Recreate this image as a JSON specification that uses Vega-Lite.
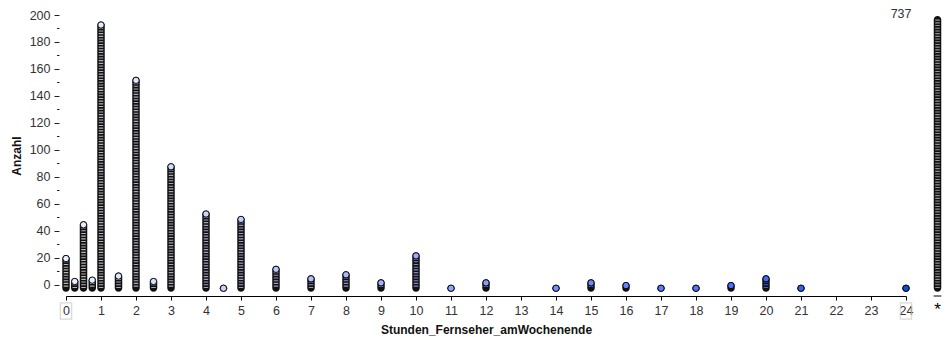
{
  "$schema": "https://vega.github.io/schema/vega-lite/v6.json",
  "autosize": "none",
  "width": 840,
  "height": 281,
  "padding": {"left": 66, "top": 15, "right": 45, "bottom": 45},
  "background": "white",
  "config": {
    "view": {"stroke": null},
    "font": "Liberation Sans",
    "axis": {"labelFont": "Liberation Sans", "titleFont": "Liberation Sans"}
  },
  "datasets": {
    "punkte": [
      {"x": 0, "n": 23}, {"x": 0.25, "n": 6}, {"x": 0.5, "n": 48}, {"x": 0.75, "n": 7},
      {"x": 1, "n": 196}, {"x": 1.5, "n": 10}, {"x": 2, "n": 155}, {"x": 2.5, "n": 6},
      {"x": 3, "n": 91}, {"x": 4, "n": 56}, {"x": 4.5, "n": 1}, {"x": 5, "n": 52},
      {"x": 6, "n": 15}, {"x": 7, "n": 8}, {"x": 8, "n": 11}, {"x": 9, "n": 5},
      {"x": 10, "n": 25}, {"x": 11, "n": 1}, {"x": 12, "n": 5}, {"x": 14, "n": 1},
      {"x": 15, "n": 5}, {"x": 16, "n": 3}, {"x": 17, "n": 1}, {"x": 18, "n": 1},
      {"x": 19, "n": 3}, {"x": 20, "n": 8}, {"x": 21, "n": 1}, {"x": 24, "n": 1}
    ],
    "fehlend": [{"label": "*", "n": 737}],
    "enden": [{"x": 0}, {"x": 24}]
  },
  "data": {"name": "punkte"},
  "layer": [
    {
      "mark": {"type": "bar", "color": "#111", "size": 7.5, "cornerRadius": 3.75, "yOffset": 1.1, "y2Offset": 8.1},
      "encoding": {
        "x": {
          "field": "x", "type": "quantitative",
          "scale": {"domain": [0, 24], "nice": false, "zero": false, "padding": 0},
          "axis": {
            "values": [0,1,2,3,4,5,6,7,8,9,10,11,12,13,14,15,16,17,18,19,20,21,22,23,24],
            "tickCount": 100, "format": "d",
            "title": "Stunden_Fernseher_amWochenende",
            "titleFontWeight": "bold", "titleFontSize": 12, "titleColor": "#111", "titlePadding": 8,
            "labelFontSize": 12.5, "labelColor": "#333", "labelPadding": 4,
            "tickSize": 4, "tickColor": "black", "domainColor": "black", "grid": false,
            "labelFlush": false, "labelOverlap": false
          }
        },
        "y": {
          "field": "n", "type": "quantitative",
          "scale": {"domain": [-8.15, 200], "nice": false, "zero": false, "clamp": true, "padding": 0},
          "axis": {
            "values": [0,10,20,30,40,50,60,70,80,90,100,110,120,130,140,150,160,170,180,190,200],
            "tickCount": 100, "format": "d",
            "labelExpr": "datum.value % 20 === 0 ? datum.label : ''",
            "labelOverlap": false,
            "title": "Anzahl", "titleFontWeight": "bold", "titleFontSize": 12, "titleColor": "#111",
            "titlePadding": 6,
            "labelFontSize": 12.5, "labelColor": "#333", "labelPadding": 4,
            "offset": 7, "domain": false, "grid": false, "tickColor": "#222",
            "tickSize": {"condition": {"test": "datum.value % 20 === 0", "value": 5}, "value": 2.5}
          }
        },
        "y2": {"datum": 1}
      }
    },
    {
      "mark": {"type": "rule", "strokeWidth": 4.5, "strokeDash": [1.1, 1.6], "yOffset": 4.6, "y2Offset": 4.6},
      "encoding": {
        "x": {"field": "x", "type": "quantitative"},
        "y": {"field": "n", "type": "quantitative"},
        "y2": {"datum": 1},
        "color": {"field": "x", "type": "quantitative", "scale": {"domain": [0, 24], "range": ["#b4b4b8", "#0a4fd6"]}, "legend": null}
      }
    },
    {
      "mark": {"type": "point", "filled": true, "shape": "circle", "size": 40, "stroke": "black", "strokeWidth": 0.9, "opacity": 1, "yOffset": 4.6},
      "encoding": {
        "x": {"field": "x", "type": "quantitative"},
        "y": {"field": "n", "type": "quantitative"},
        "fill": {"field": "x", "type": "quantitative", "scale": {"domain": [0, 24], "range": ["#ffffff", "#0a4fd6"]}, "legend": null}
      }
    },
    {
      "data": {"name": "fehlend"},
      "mark": {"type": "bar", "color": "#111", "size": 7.5, "cornerRadius": 3.75, "yOffset": 1.1, "y2Offset": 8.1},
      "encoding": {
        "x": {"datum": 24.9, "type": "quantitative"},
        "y": {"field": "n", "type": "quantitative"},
        "y2": {"datum": 1}
      }
    },
    {
      "data": {"name": "fehlend"},
      "mark": {"type": "rule", "strokeWidth": 4.5, "strokeDash": [1.1, 1.6], "color": "#959595", "yOffset": 4.6, "y2Offset": 4.6},
      "encoding": {
        "x": {"datum": 24.9, "type": "quantitative"},
        "y": {"field": "n", "type": "quantitative"},
        "y2": {"datum": 1}
      }
    },
    {
      "data": {"name": "fehlend"},
      "mark": {"type": "text", "align": "right", "baseline": "middle", "dx": -26, "dy": -1, "fontSize": 12.5, "color": "#333"},
      "encoding": {
        "x": {"datum": 24.9, "type": "quantitative"},
        "y": {"field": "n", "type": "quantitative"},
        "text": {"field": "n", "type": "quantitative"}
      }
    },
    {
      "data": {"name": "fehlend"},
      "mark": {"type": "text", "align": "center", "baseline": "middle", "dy": 14, "fontSize": 17, "color": "black"},
      "encoding": {
        "x": {"datum": 24.9, "type": "quantitative"},
        "y": {"datum": -8.15, "type": "quantitative"},
        "text": {"field": "label", "type": "nominal"}
      }
    },
    {
      "data": {"name": "fehlend"},
      "mark": {"type": "rule", "color": "black", "strokeWidth": 1},
      "encoding": {
        "x": {"datum": 24.79, "type": "quantitative"},
        "x2": {"datum": 25.01},
        "y": {"datum": -8.15, "type": "quantitative"}
      }
    },
    {
      "data": {"name": "enden"},
      "mark": {"type": "point", "shape": "M-0.7,-1L0.7,-1L0.7,1L-0.7,1Z", "size": 260, "filled": false, "stroke": "#c8c8c8", "strokeWidth": 1.2, "yOffset": 15},
      "encoding": {
        "x": {"field": "x", "type": "quantitative"},
        "y": {"datum": -8.15, "type": "quantitative"}
      }
    }
  ]
}
